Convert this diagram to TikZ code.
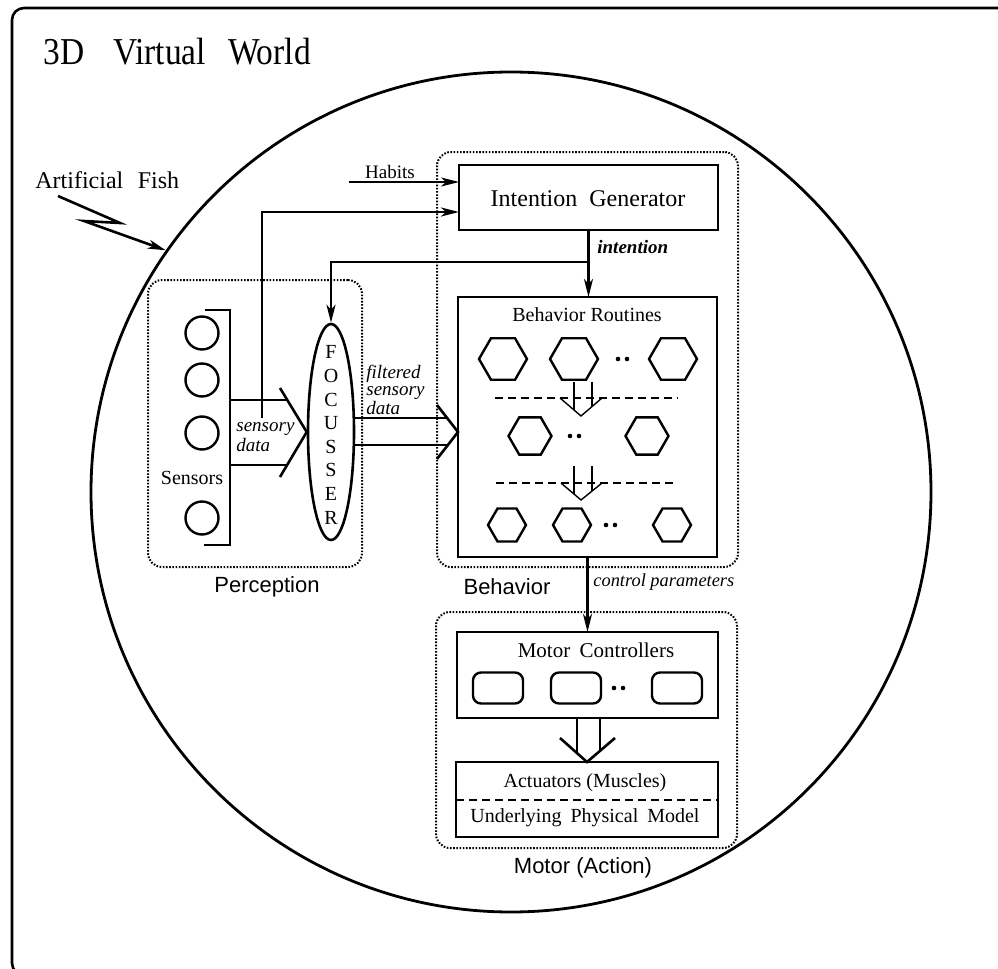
\documentclass[tikz,border=0pt]{standalone}
\usepackage{fontspec}
\setmainfont{Liberation Serif}
\setsansfont{Liberation Sans}
\usetikzlibrary{shapes.geometric,arrows.meta}
\begin{document}
\begin{tikzpicture}[x=0.5pt,y=-0.5pt,
  thk/.style={line width=1.3pt},
  thn/.style={line width=0.7pt},
  grp/.style={draw,dash pattern=on 0.8pt off 0.8pt,line width=1pt,rounded corners=7pt,inner sep=0pt,outer sep=0pt},
  boxx/.style={draw,line width=1.3pt,rectangle,inner sep=0pt,outer sep=0pt},
  arr/.style={-{Stealth[length=9pt,width=4.5pt,inset=2.5pt]}},
  hexa/.style={draw,line width=1.2pt,regular polygon,regular polygon sides=6,inner sep=0pt},
  mcbox/.style={draw,line width=1.2pt,rounded corners=4pt,minimum width=25pt,minimum height=15.5pt,inner sep=0pt},
  lab/.style={font=\fontsize{9.5}{8}\selectfont\itshape,align=left,anchor=west,inner sep=0pt},
  grplab/.style={font=\sffamily\fontsize{11}{13}\selectfont,inner sep=0pt},
  txt/.style={font=\fontsize{10}{12}\selectfont,inner sep=0pt},
  sens/.style={draw,circle,line width=1.2pt,minimum size=16.5pt,inner sep=0pt},
  dashA/.style={line width=1.3pt,dash pattern=on 4pt off 2.5pt},
  dashB/.style={line width=0.7pt,dash pattern=on 4pt off 2.5pt}
]
\useasboundingbox (0,0) rectangle (998,969);
\clip (0,0) rectangle (998,969);

% outer world frame
\draw[line width=1.3pt,rounded corners=6pt] (12,8) rectangle (1030,975);
\node[anchor=west,inner sep=0pt,font=\fontsize{19}{21}\selectfont] (title) at (43,52) {\scalebox{0.88}[1]{3D\hspace{16.5pt}Virtual\hspace{12.5pt}World}};

% fish circle
\node[draw,circle,line width=1.4pt,minimum size=420pt,inner sep=0pt] (fish) at (511,492) {};
\node[anchor=west,inner sep=0pt,font=\fontsize{12}{14}\selectfont] (af) at (35,180) {Artificial\hspace{0.6em}Fish};
\coordinate (z0) at (58,196);
\coordinate (z1) at (120,223);
\coordinate (z2) at (84,221);
\draw[thk,arr] (z0) -- (z1) -- (z2) -- (fish.145);

% group boxes
\node[grp,minimum width=107pt,minimum height=143.5pt] (perc) at (255,423.5) {};
\node[grplab] (perclab) at (267,587) {Perception};
\node[grp,minimum width=150.5pt,minimum height=207.5pt] (beh) at (587.5,359.5) {};
\node[grplab] (behlab) at (507,587) {Behavior};
\node[grp,minimum width=150.5pt,minimum height=118pt] (mot) at (586.5,730) {};
\node[grplab] (motlab) at (583,868) {Motor (Action)};

% sensors
\node[sens] (s1) at (202,333) {};
\node[sens] (s2) at (202,380) {};
\node[sens] (s3) at (202,433) {};
\node[sens] (s4) at (202,518) {};
\node[txt] (senslab) at (192,478) {Sensors};
\draw[thk] (205,310) -- (230,310) -- (230,545) -- (204,545);

% focusser
\node[draw,ellipse,line width=1.3pt,minimum width=23pt,minimum height=108pt,inner sep=0pt] (FOC) at (331,432) {};
\node[font=\fontsize{10}{11.8}\selectfont,align=center,inner sep=0pt] (foctxt) at (331,435) {F\\O\\C\\U\\S\\S\\E\\R};

% sensory data open arrow
\draw[thk] (230,400) -- (287,400);
\draw[thk] (230,465) -- (287,465);
\draw[thk] (280,388) -- (FOC.west) -- (280,477);
\node[lab] (sdlab) at (236,437) {sensory\\data};

% intention generator
\node[boxx,minimum width=129.5pt,minimum height=32.5pt] (IG) at (588.5,197.5) {};
\node[font=\fontsize{12}{14}\selectfont,inner sep=0pt] (igtxt) at (588,199) {Intention\hspace{0.5em}Generator};
\coordinate (hab) at (349,182);
\node[font=\fontsize{9.5}{11}\selectfont,inner sep=0pt] (hablab) at (390,172) {Habits};
\draw[thn,arr] (hab) -- (IG.west |- hab);
\coordinate (sdj) at (262,418);
\draw[thk,arr] (sdj) |- (IG.west |- 0,212);

% behavior routines
\node[boxx,minimum width=129.5pt,minimum height=130pt] (BR) at (587.5,427) {};
\node[txt] (brtxt) at (587,315) {Behavior Routines};
\draw[thk,arr] (IG.south) -- (IG.south |- BR.north);
\node[lab,font=\fontsize{9.5}{11}\selectfont\itshape\bfseries] (intlab) at (597,247) {intention};
\coordinate (fj) at (IG.south |- 0,262);
\draw[thk,arr] (fj) -| (FOC.north);

% filtered sensory data open arrow
\draw[thn] (353,418) -- (448,418);
\draw[thk] (354,445) -- (448,445);
\coordinate (brin) at (458,432);
\draw[thk] (437,405) -- (brin) -- (437,459);
\node[lab,font=\fontsize{9.5}{8.2}\selectfont\itshape] (fsd) at (366,390) {filtered\\sensory\\data};

% hexagons row 1
\node[hexa,minimum size=24pt] (h11) at (503,359) {};
\node[hexa,minimum size=24pt] (h12) at (574,359) {};
\node[hexa,minimum size=24pt] (h13) at (673,359) {};
\fill (618,359) circle (2.3);
\fill (627,359) circle (2.3);
\draw[dashA] (495,398) -- (678,398);
\draw[thn] (574,382) -- (574,410);
\draw[thn] (592,382) -- (592,407);
\draw[thn] (560,398) -- (581,416) -- (602,398);

% row 2
\node[hexa,minimum size=21.5pt] (h21) at (530,436) {};
\node[hexa,minimum size=21.5pt] (h22) at (647,436) {};
\fill (570,436) circle (2.3);
\fill (579,436) circle (2.3);
\draw[dashB] (496,483) -- (673,483);
\draw[thn] (574,466) -- (574,494);
\draw[thn] (592,466) -- (592,491);
\draw[thn] (561,483) -- (581,500) -- (602,483);

% row 3
\node[hexa,minimum size=19pt] (h31) at (507,525) {};
\node[hexa,minimum size=19pt] (h32) at (572,525) {};
\node[hexa,minimum size=19pt] (h33) at (672,525) {};
\fill (606,525) circle (2.3);
\fill (615,525) circle (2.3);

% motor controllers
\node[boxx,minimum width=130.5pt,minimum height=43pt] (MC) at (587.5,675) {};
\node[txt,font=\fontsize{10.5}{12}\selectfont] (mctxt) at (596,650) {Motor\hspace{0.45em}Controllers};
\draw[thk,arr] (BR.south) -- (MC.north);
\node[lab,font=\fontsize{9.2}{11}\selectfont\itshape] (cplab) at (593,582) {control parameters};
\node[mcbox] (m1) at (498,688) {};
\node[mcbox] (m2) at (576,688) {};
\node[mcbox] (m3) at (677,688) {};
\fill (614,688) circle (2.3);
\fill (623,688) circle (2.3);

% actuators
\node[boxx,minimum width=131pt,minimum height=37.5pt] (ACT) at (587,799.5) {};
\draw[dashB] (ACT.west |- 0,800) -- (ACT.east |- 0,800);
\node[txt] (acttxt) at (585,783) {Actuators (Muscles)};
\node[txt] (phytxt) at (585,818) {Underlying\hspace{0.45em}Physical\hspace{0.45em}Model};

% motor open arrow
\draw[thk] (577,718) -- (577,752);
\draw[thn] (600,718) -- (600,751);
\draw[thk] (560,738) -- (ACT.north) -- (615,738);
\end{tikzpicture}
\end{document}
